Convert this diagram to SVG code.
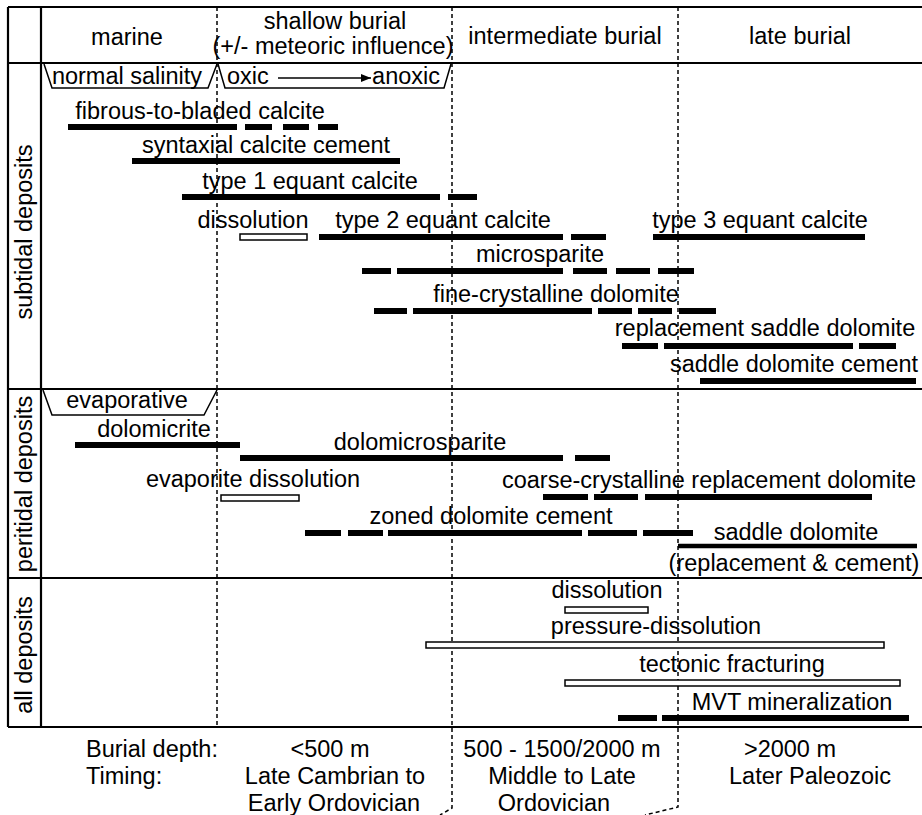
<svg xmlns="http://www.w3.org/2000/svg" width="922" height="815" viewBox="0 0 922 815">
<defs>
<style>
text{font-family:"Liberation Sans",Arial,Helvetica,sans-serif;font-size:23.5px;fill:#000}
.c{text-anchor:middle}
.e{text-anchor:end}
.frame{stroke:#000;stroke-width:2.2;fill:none}
.dash{stroke:#000;stroke-width:1.5;stroke-dasharray:4 3;fill:none}
.bar{stroke:#000;stroke-width:6;fill:none}
.open{fill:#fff;stroke:#000;stroke-width:1.5}
.trap{fill:none;stroke:#000;stroke-width:1.5}
</style>
<marker id="ah" viewBox="0 0 10 8" refX="10" refY="4" markerWidth="10" markerHeight="8" markerUnits="userSpaceOnUse" orient="auto">
<path d="M0,0L10,4L0,8z" fill="#000"/>
</marker>
</defs>
<rect width="922" height="815" fill="#fff"/>

<g id="frame">
<path class="frame" d="M8,7H922M8,63H922M8,389H922M8,578H922M8,727H922M8,7V727M41,7V727"/>
</g>

<g id="connectors">
<path class="dash" d="M217,7V727"/>
<path class="dash" d="M452,7V808L440,815"/>
<path class="dash" d="M678,7V807L645,815"/>
</g>

<g id="header">
<text class="c" x="127" y="45">marine</text>
<text class="c" x="335" y="29">shallow burial</text>
<text class="c" x="333" y="54">(+/- meteoric influence)</text>
<text class="c" x="565" y="44">intermediate burial</text>
<text class="c" x="800" y="44">late burial</text>
</g>

<g id="side-labels">
<text class="c" transform="translate(32,232) rotate(-90)">subtidal deposits</text>
<text class="c" transform="translate(32,484) rotate(-90)">peritidal deposits</text>
<text class="c" transform="translate(32,655) rotate(-90)">all deposits</text>
</g>

<g id="normal-salinity">
<path class="trap" d="M44,64L52,88H208L217,64"/>
<text class="c" x="127" y="84">normal salinity</text>
</g>
<g id="oxic-anoxic">
<path class="trap" d="M218,64L225,88H444L451,64"/>
<text x="227" y="84">oxic</text>
<path d="M278,78H371" stroke="#000" stroke-width="1.3" marker-end="url(#ah)"/>
<text class="e" x="440" y="84">anoxic</text>
</g>

<g id="fibrous">
<text class="c" x="200" y="119">fibrous-to-bladed calcite</text>
<path class="bar" d="M68,127H237M245,127H272M283,127H309M318,127H338"/>
</g>
<g id="syntaxial">
<text class="c" x="266" y="153">syntaxial calcite cement</text>
<path class="bar" d="M132,161H400"/>
</g>
<g id="type1">
<text class="c" x="310" y="189">type 1 equant calcite</text>
<path class="bar" d="M182,197H440M448,197H477"/>
</g>
<g id="dissolution-1">
<text class="c" x="253" y="228">dissolution</text>
<rect class="open" x="240" y="234" width="67" height="6"/>
</g>
<g id="type2">
<text class="c" x="443" y="228">type 2 equant calcite</text>
<path class="bar" d="M319,237H563M571,237H606"/>
</g>
<g id="type3">
<text class="c" x="760" y="228">type 3 equant calcite</text>
<path class="bar" d="M653,237H865"/>
</g>
<g id="microsparite">
<text class="c" x="540" y="262">microsparite</text>
<path class="bar" d="M362,271H391M397,271H563M573,271H607M616,271H650M658,271H694"/>
</g>
<g id="fine-dolomite">
<text class="c" x="556" y="302">fine-crystalline dolomite</text>
<path class="bar" d="M374,311H407M413,311H592M598,311H632M638,311H672M679,311H716"/>
</g>
<g id="replacement-saddle">
<text class="c" x="765" y="336">replacement saddle dolomite</text>
<path class="bar" d="M622,346H658M664,346H853M859,346H896"/>
</g>
<g id="saddle-cement">
<text class="c" x="794" y="372">saddle dolomite cement</text>
<path class="bar" d="M700,381H916"/>
</g>

<g id="evaporative">
<path class="trap" d="M43,390L52,415H204L217,390"/>
<text class="c" x="127" y="408">evaporative</text>
</g>
<g id="dolomicrite">
<text class="c" x="154" y="437">dolomicrite</text>
<path class="bar" d="M75,445H240"/>
</g>
<g id="dolomicrosparite">
<text class="c" x="420" y="450">dolomicrosparite</text>
<path class="bar" d="M240,458H563M575,458H610"/>
</g>
<g id="evaporite-dissolution">
<text class="c" x="253" y="487">evaporite dissolution</text>
<rect class="open" x="221" y="495" width="78" height="6"/>
</g>
<g id="coarse-dolomite">
<text class="c" x="709" y="488">coarse-crystalline replacement dolomite</text>
<path class="bar" d="M543,497H588M594,497H638M645,497H872"/>
</g>
<g id="zoned">
<text class="c" x="491" y="524">zoned dolomite cement</text>
<path class="bar" d="M305,533H341M348,533H383M388,533H582M588,533H637M643,533H693"/>
</g>
<g id="saddle-dolomite">
<text class="c" x="796" y="540">saddle dolomite</text>
<path class="bar" style="stroke-width:4.5" d="M678,546H917"/>
<text class="c" x="794" y="571">(replacement &amp; cement)</text>
</g>

<g id="dissolution-2">
<text class="c" x="607" y="598">dissolution</text>
<rect class="open" x="565" y="607" width="83" height="6"/>
</g>
<g id="pressure-dissolution">
<text class="c" x="656" y="634">pressure-dissolution</text>
<rect class="open" x="426" y="642" width="458" height="6"/>
</g>
<g id="tectonic">
<text class="c" x="732" y="672">tectonic fracturing</text>
<rect class="open" x="565" y="680" width="335" height="6"/>
</g>
<g id="mvt">
<text class="c" x="792" y="710">MVT mineralization</text>
<path class="bar" d="M618,718H657M662,718H909"/>
</g>

<g id="footer">
<text x="86" y="757">Burial depth:</text>
<text x="86" y="784">Timing:</text>
<text class="c" x="330" y="757">&lt;500 m</text>
<text class="c" x="335" y="784">Late Cambrian to</text>
<text class="c" x="334" y="811">Early Ordovician</text>
<text class="c" x="562" y="757">500 - 1500/2000 m</text>
<text class="c" x="562" y="784">Middle to Late</text>
<text class="c" x="554" y="811">Ordovician</text>
<text class="c" x="790" y="757">&gt;2000 m</text>
<text class="c" x="810" y="784">Later Paleozoic</text>
</g>
</svg>
